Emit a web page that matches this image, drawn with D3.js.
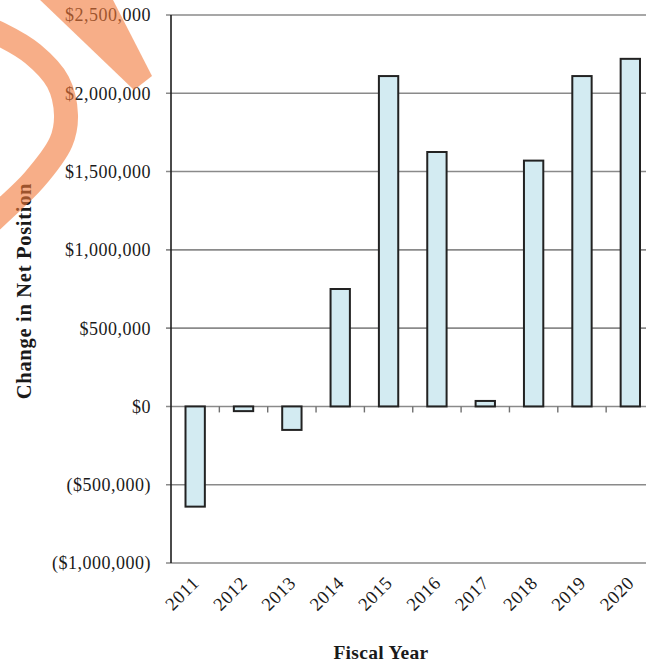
<!DOCTYPE html>
<html>
<head>
<meta charset="utf-8">
<script src="https://cdn.jsdelivr.net/npm/d3@7"></script>
<style>
  html, body { margin: 0; padding: 0; background: #fff; }
  svg { display: block; }
  text { font-family: "Liberation Serif", "Times New Roman", serif; fill: #1a1a1a; }
</style>
</head>
<body>
<svg id="chart" width="646" height="664"></svg>
<script>
// ---- data ----
const years = ["2011","2012","2013","2014","2015","2016","2017","2018","2019","2020"];
const changeInNetPosition = [-640000, -30000, -150000, 750000, 2110000, 1625000, 35000, 1570000, 2110000, 2220000];
const yTickValues = [-1000000, -500000, 0, 500000, 1000000, 1500000, 2000000, 2500000];
const yTitle = "Change in Net Position";
const xTitle = "Fiscal Year";

// ---- layout ----
const svg = d3.select("#chart");
const plotLeft = 171, bandW = 48.35, plotTop = 15, plotBottom = 563;
const plotRight = plotLeft + bandW * years.length;

const x = d3.scaleBand().domain(years).range([plotLeft, plotRight]).padding(0);
const y = d3.scaleLinear().domain([-1000000, 2500000]).range([plotBottom, plotTop]);

const fmt = v => {
  const s = "$" + d3.format(",")(Math.abs(v));
  return v < 0 ? "(" + s + ")" : s;
};

// gridlines + y ticks
const g = svg.append("g");
g.selectAll("line.grid").data(yTickValues).join("line")
  .attr("class", "grid")
  .attr("x1", plotLeft - 5).attr("x2", plotRight)
  .attr("y1", d => y(d)).attr("y2", d => y(d))
  .attr("stroke", "#8a8a8a").attr("stroke-width", 1.6);

// y tick labels
g.selectAll("text.ytick").data(yTickValues).join("text")
  .attr("class", "ytick")
  .attr("x", 151).attr("y", d => y(d))
  .attr("dy", "0.36em")
  .attr("text-anchor", "end")
  .style("font-size", "18px")
  .style("letter-spacing", "0.5px")
  .text(fmt);

// y axis line
g.append("line")
  .attr("x1", plotLeft).attr("x2", plotLeft)
  .attr("y1", plotTop).attr("y2", plotBottom)
  .attr("stroke", "#1e1e1e").attr("stroke-width", 1.6);

// x ticks on zero line at band boundaries
g.selectAll("line.xtick").data(years.slice(1)).join("line")
  .attr("class", "xtick")
  .attr("x1", d => x(d)).attr("x2", d => x(d))
  .attr("y1", y(0)).attr("y2", y(0) + 6)
  .attr("stroke", "#707070").attr("stroke-width", 1.4);

// bars
const barW = bandW * 0.4;
g.selectAll("rect.bar").data(years).join("rect")
  .attr("class", "bar")
  .attr("x", d => x(d) + x.bandwidth() / 2 - barW / 2)
  .attr("width", barW)
  .attr("y", (d, i) => Math.min(y(0), y(changeInNetPosition[i])))
  .attr("height", (d, i) => Math.abs(y(changeInNetPosition[i]) - y(0)))
  .attr("fill", "#D3EBF2")
  .attr("stroke", "#222")
  .attr("stroke-width", 2);

// x tick labels (rotated)
g.selectAll("text.xlab").data(years).join("text")
  .attr("class", "xlab")
  .attr("transform", d => `translate(${x(d) + x.bandwidth() / 2 + 5},${plotBottom + 21}) rotate(-45)`)
  .attr("text-anchor", "end")
  .style("font-size", "18.5px")
  .style("letter-spacing", "0.6px")
  .text(d => d);

// axis titles
svg.append("text")
  .attr("transform", `translate(31,291) rotate(-90)`)
  .attr("text-anchor", "middle")
  .style("font-size", "20.5px").style("font-weight", "bold")
  .style("letter-spacing", "0.7px")
  .text(yTitle);

svg.append("text")
  .attr("x", 381).attr("y", 659)
  .attr("text-anchor", "middle")
  .style("font-size", "19.5px").style("font-weight", "bold")
  .style("letter-spacing", "0.3px")
  .text(xTitle);

// decorative orange watermark strokes (overlay)
const wm = svg.append("g").attr("opacity", 0.6);
const arcPts = [[-20,26],[0,34],[33,54],[58,82],[66,115],[61,142],[34,180],[0,213],[-20,232]];
wm.append("path")
  .attr("d", d3.line().curve(d3.curveCatmullRom)(arcPts))
  .attr("fill", "none")
  .attr("stroke", "#F37A3A")
  .attr("stroke-width", 24);
wm.append("path")
  .attr("d", "M38,-2 L112,-2 L152,76 L134,90 Z")
  .attr("fill", "#F37A3A");
</script>
</body>
</html>
